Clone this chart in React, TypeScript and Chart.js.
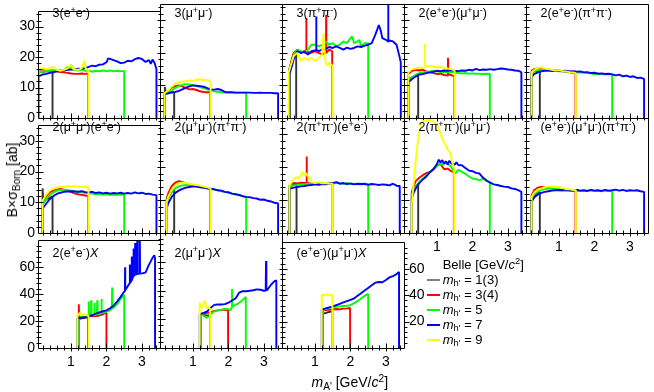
import React, { useEffect, useRef } from "react";
import { Chart, registerables } from "chart.js";

Chart.register(...registerables);

const FONT = '"Liberation Sans", Arial, Helvetica, sans-serif';

// ---- axes ----
const X_MIN = 0.07;
const X_MAX = 3.51;
const X_TICK_LABELS = [1, 2, 3];
const Y_TICKS_35 = [0, 10, 20, 30];
const Y_TICKS_80 = [0, 20, 40, 60];
const Y_TICKS_RIGHT = [20, 40, 60];

// ---- legend ----
const LEGEND_LABELS = ["1(3)", "3(4)", "5", "7", "9"];
const LEGEND_COLORS = ["#808080", "#ff0000", "#00ff00", "#0000ff", "#ffff00"];

// series order in every panel: yellow (m=9), blue (7), green (5), red (3/4), black (1/3)
const SERIES_COLORS = ["#ffff00", "#0000ff", "#00ff00", "#ff0000", "#333333"];

// ---- data: flat [x, y, x, y, ...] lists ----
// Panel 1: 3(e+e-)
const p01Yellow = [0.08,0, 0.08,15.8, 0.2,16.4, 0.3,16.0, 0.4,16.3, 0.5,16.8, 0.6,15.8, 0.7,15.5, 0.8,15.8, 0.9,16.3, 1.0,17.4, 1.05,16.2, 1.1,16.0, 1.2,15.8, 1.3,16.2, 1.38,18.9, 1.42,16.0, 1.495,15.7, 1.495,0];
const p01Blue = [0.08,0, 0.08,13.7, 0.15,14.0, 0.2,14.3, 0.3,14.5, 0.4,14.8, 0.5,15.0, 0.6,15.3, 0.7,15.4, 0.8,15.6, 0.9,15.8, 1.0,15.9, 1.1,16.0, 1.2,16.2, 1.3,16.1, 1.4,16.4, 1.5,16.8, 1.6,17.2, 1.7,17.0, 1.8,17.5, 1.9,17.6, 2.0,18.3, 2.05,19.6, 2.1,19.4, 2.2,19.0, 2.3,18.6, 2.4,18.0, 2.5,18.2, 2.6,18.8, 2.7,18.6, 2.8,19.3, 2.9,19.7, 3.0,19.4, 3.1,18.4, 3.2,19.0, 3.25,17.8, 3.3,19.2, 3.36,18.0, 3.41,16.0, 3.41,0];
const p01Green = [0.08,0, 0.08,15.0, 0.2,15.2, 0.3,15.4, 0.4,15.5, 0.5,15.7, 0.6,15.5, 0.7,15.8, 0.8,15.6, 0.9,16.8, 0.95,15.9, 1.0,17.5, 1.05,16.0, 1.1,15.9, 1.2,15.6, 1.3,15.8, 1.4,15.5, 1.5,15.6, 1.6,15.2, 1.7,15.5, 1.8,15.3, 1.9,15.6, 2.0,15.4, 2.1,15.6, 2.2,15.3, 2.3,15.5, 2.4,15.4, 2.5,15.4, 2.5,0];
const p01Red = [0.08,0, 0.08,15.8, 0.2,16.0, 0.3,15.9, 0.4,15.5, 0.5,15.6, 0.6,15.3, 0.7,15.1, 0.8,15.0, 0.9,14.8, 1.0,14.6, 1.1,14.5, 1.2,14.5, 1.3,14.6, 1.4,14.5, 1.485,14.6, 1.485,0];
const p01Black = [0.08,0, 0.08,15.0, 0.2,15.2, 0.3,15.3, 0.4,15.3, 0.48,15.2, 0.48,0];

// Panel 2: 3(mu+mu-)
const p02Yellow = [0.2,0, 0.2,7.6, 0.3,8.5, 0.4,9.6, 0.5,10.5, 0.6,11.0, 0.7,11.2, 0.8,11.3, 0.9,11.5, 1.0,11.4, 1.1,11.8, 1.2,11.9, 1.3,11.6, 1.4,11.8, 1.495,11.0, 1.495,0];
const p02Blue = [0.2,0, 0.2,7.3, 0.3,7.6, 0.4,7.8, 0.5,8.0, 0.6,8.3, 0.7,8.8, 0.8,9.3, 0.9,9.7, 1.0,10.0, 1.1,9.9, 1.2,9.8, 1.3,9.6, 1.4,9.2, 1.5,8.8, 1.6,8.7, 1.7,8.9, 1.8,8.6, 1.9,8.0, 2.0,7.9, 2.1,7.9, 2.2,7.8, 2.3,7.8, 2.4,7.8, 2.5,7.8, 2.6,7.8, 2.7,7.7, 2.8,7.7, 2.9,7.8, 3.0,7.7, 3.1,7.7, 3.2,7.7, 3.3,7.6, 3.4,7.6, 3.4,0];
const p02Green = [0.2,0, 0.2,7.3, 0.3,7.8, 0.4,8.5, 0.5,9.2, 0.6,9.8, 0.7,10.2, 0.8,10.4, 0.9,10.3, 1.0,10.1, 1.1,9.8, 1.2,9.5, 1.3,9.1, 1.4,8.8, 1.5,8.5, 1.6,8.2, 1.7,8.0, 1.8,7.9, 1.9,7.8, 2.0,7.8, 2.2,7.8, 2.4,7.8, 2.5,7.8, 2.5,0];
const p02Red = [0.2,0, 0.2,7.5, 0.3,8.3, 0.4,9.3, 0.5,9.8, 0.6,10.0, 0.7,9.7, 0.8,9.2, 0.9,8.8, 1.0,8.9, 1.1,8.6, 1.2,8.2, 1.3,8.0, 1.4,7.9, 1.485,7.9, 1.485,0];
const p02Black = [0.21,0, 0.21,9.5, 0.23,7.6, 0.3,7.8, 0.4,8.0, 0.47,7.8, 0.47,0];

// Panel 3: 3(pi+pi-)
const p03Yellow = [0.26,0, 0.26,14.0, 0.3,15.5, 0.4,19.0, 0.5,20.0, 0.6,17.5, 0.7,18.5, 0.8,17.8, 0.9,18.5, 1.0,17.5, 1.1,18.2, 1.2,19.5, 1.24,26.0, 1.28,19.0, 1.3,17.0, 1.35,16.0, 1.4,17.0, 1.495,16.0, 1.495,0];
const p03Blue = [0.28,0, 0.28,13.5, 0.35,16.0, 0.4,18.0, 0.5,20.5, 0.6,20.0, 0.7,20.3, 0.8,19.5, 0.9,20.5, 1.03,20.8, 1.035,31.2, 1.04,21.0, 1.1,20.5, 1.2,21.0, 1.3,21.2, 1.4,21.8, 1.5,21.5, 1.6,22.0, 1.7,21.5, 1.8,21.0, 1.9,21.6, 2.0,21.2, 2.1,21.5, 2.2,22.0, 2.3,21.8, 2.4,22.2, 2.5,22.5, 2.6,23.0, 2.7,25.5, 2.8,28.5, 2.85,27.0, 2.9,24.5, 3.0,24.0, 3.06,23.5, 3.065,38.0, 3.07,23.5, 3.1,23.8, 3.2,23.5, 3.3,22.5, 3.38,19.0, 3.42,17.0, 3.42,0];
const p03Green = [0.28,0, 0.28,15.0, 0.35,17.0, 0.4,19.5, 0.5,21.0, 0.6,20.5, 0.7,20.0, 0.8,21.0, 0.9,22.5, 1.0,22.5, 1.1,22.0, 1.2,22.5, 1.3,23.5, 1.4,22.5, 1.5,23.0, 1.6,22.0, 1.7,22.5, 1.8,23.5, 1.9,23.0, 2.0,24.5, 2.05,25.0, 2.1,23.0, 2.2,23.5, 2.25,24.0, 2.3,22.0, 2.4,23.0, 2.5,23.0, 2.5,0];
const p03Red = [0.28,0, 0.28,15.0, 0.35,18.0, 0.4,20.0, 0.5,21.0, 0.6,20.0, 0.7,20.5, 0.75,20.5, 0.755,30.7, 0.76,20.5, 0.8,20.2, 0.9,20.0, 1.0,20.5, 1.1,20.0, 1.2,19.5, 1.31,20.0, 1.315,31.7, 1.32,20.0, 1.4,21.0, 1.485,20.5, 1.485,0];
const p03Black = [0.28,0, 0.28,15.0, 0.35,18.0, 0.4,19.5, 0.47,20.0, 0.47,0];

// Panel 4: 2(e+e-)(mu+mu-)
const p04Yellow = [0.19,0, 0.19,14.0, 0.3,15.0, 0.4,15.2, 0.5,15.5, 0.6,15.3, 0.65,15.5, 0.655,22.8, 0.66,15.5, 0.7,15.8, 0.8,16.0, 0.9,15.8, 1.0,15.5, 1.1,15.6, 1.2,15.3, 1.3,15.2, 1.4,15.0, 1.495,14.6, 1.495,0];
const p04Blue = [0.19,0, 0.19,11.0, 0.3,12.0, 0.4,12.8, 0.5,13.3, 0.6,13.5, 0.7,13.8, 0.8,14.0, 0.9,14.2, 1.0,14.5, 1.1,14.4, 1.2,14.6, 1.3,14.5, 1.4,14.7, 1.5,14.5, 1.6,14.4, 1.7,14.6, 1.8,14.5, 1.9,14.8, 2.0,14.6, 2.1,15.1, 2.2,14.7, 2.3,14.9, 2.4,14.8, 2.5,15.0, 2.6,14.8, 2.7,15.0, 2.8,15.2, 2.9,15.1, 3.0,14.9, 3.1,14.8, 3.2,14.6, 3.3,14.5, 3.38,14.0, 3.38,0];
const p04Green = [0.19,0, 0.19,11.5, 0.3,12.5, 0.4,13.3, 0.5,13.8, 0.6,14.0, 0.7,14.2, 0.8,14.3, 0.9,14.5, 1.0,14.3, 1.1,14.1, 1.2,14.2, 1.3,14.0, 1.4,14.2, 1.5,13.9, 1.6,13.8, 1.7,13.7, 1.8,13.8, 1.9,13.6, 2.0,13.7, 2.1,13.6, 2.2,13.6, 2.3,13.5, 2.4,13.6, 2.49,13.5, 2.49,0];
const p04Red = [0.19,0, 0.19,13.5, 0.3,14.5, 0.4,14.8, 0.5,14.6, 0.6,14.8, 0.7,14.3, 0.8,14.0, 0.9,13.8, 1.0,13.5, 1.1,13.6, 1.2,13.2, 1.3,13.0, 1.31,18.5, 1.32,13.4, 1.4,13.2, 1.485,12.8, 1.485,0];
const p04Black = [0.19,0, 0.19,12.0, 0.3,12.5, 0.4,12.8, 0.47,13.0, 0.47,0];

// Panel 5: 2(e+e-)(pi+pi-)
const p05Yellow = [0.23,0, 0.23,14.0, 0.3,14.8, 0.4,15.3, 0.5,15.6, 0.6,15.2, 0.7,15.0, 0.8,14.8, 0.9,14.6, 1.0,14.7, 1.1,14.4, 1.2,14.3, 1.3,14.1, 1.4,14.0, 1.475,13.8, 1.475,0];
const p05Blue = [0.23,0, 0.23,12.5, 0.3,13.5, 0.4,14.0, 0.5,14.3, 0.6,14.5, 0.7,14.6, 0.8,14.4, 0.9,14.5, 1.0,14.6, 1.1,14.4, 1.2,14.5, 1.3,14.3, 1.4,14.4, 1.5,14.2, 1.6,14.3, 1.7,14.0, 1.8,14.1, 1.9,13.8, 2.0,13.9, 2.1,13.6, 2.2,13.7, 2.3,13.5, 2.4,13.6, 2.5,13.4, 2.6,13.1, 2.7,13.3, 2.8,12.8, 2.9,13.0, 3.0,12.6, 3.1,12.8, 3.2,12.3, 3.3,12.4, 3.4,12.0, 3.4,0];
const p05Green = [0.23,0, 0.23,13.5, 0.3,14.3, 0.4,14.7, 0.5,14.9, 0.6,14.7, 0.7,14.8, 0.8,14.5, 0.9,14.6, 1.0,14.3, 1.1,14.4, 1.2,14.2, 1.3,14.3, 1.4,14.0, 1.5,14.1, 1.6,13.9, 1.7,14.0, 1.8,13.8, 1.9,13.7, 2.0,13.5, 2.1,13.6, 2.2,13.4, 2.3,13.5, 2.4,13.4, 2.5,13.4, 2.5,0];
const p05Red = [0.23,0, 0.23,14.5, 0.3,15.0, 0.4,15.2, 0.5,15.0, 0.6,14.8, 0.7,14.9, 0.8,14.6, 0.9,14.7, 1.0,14.5, 1.1,14.3, 1.2,14.2, 1.3,14.0, 1.4,13.9, 1.465,13.8, 1.465,0];
const p05Black = [0.23,0, 0.23,14.0, 0.3,14.3, 0.4,14.5, 0.46,14.5, 0.46,0];

// Panel 6: 2(mu+mu-)(e+e-)
const p06Yellow = [0.2,0, 0.2,10.5, 0.3,12.5, 0.4,13.8, 0.5,14.4, 0.6,14.8, 0.7,15.0, 0.8,15.1, 0.9,15.2, 1.0,15.1, 1.1,15.2, 1.2,15.1, 1.3,15.0, 1.4,15.0, 1.495,14.8, 1.495,0];
const p06Blue = [0.2,0, 0.2,8.0, 0.3,9.5, 0.4,11.0, 0.5,12.0, 0.6,12.7, 0.7,13.1, 0.8,13.4, 0.9,13.5, 1.0,13.6, 1.1,13.5, 1.2,13.4, 1.3,13.6, 1.4,13.3, 1.5,13.2, 1.6,13.4, 1.7,13.0, 1.8,13.2, 1.9,12.9, 2.0,13.1, 2.1,12.8, 2.2,13.0, 2.3,12.9, 2.4,13.1, 2.5,12.8, 2.6,13.0, 2.7,12.8, 2.8,13.2, 2.9,12.9, 3.0,13.1, 3.1,12.7, 3.2,12.8, 3.3,12.5, 3.41,12.3, 3.41,0];
const p06Green = [0.2,0, 0.2,9.0, 0.3,11.0, 0.4,12.3, 0.5,13.2, 0.6,13.8, 0.7,14.0, 0.8,14.1, 0.9,14.0, 1.0,13.8, 1.1,13.6, 1.2,13.3, 1.3,13.2, 1.4,13.0, 1.5,12.9, 1.6,12.8, 1.7,12.6, 1.8,12.7, 1.9,12.5, 2.0,12.6, 2.1,12.4, 2.2,12.5, 2.3,12.4, 2.4,12.5, 2.5,12.4, 2.5,0];
const p06Red = [0.2,0, 0.2,10.0, 0.3,12.0, 0.4,13.2, 0.5,13.8, 0.6,14.1, 0.7,14.3, 0.8,14.1, 0.9,13.8, 1.0,13.4, 1.1,12.9, 1.2,12.6, 1.3,12.4, 1.4,12.2, 1.485,12.0, 1.485,0];
const p06Black = [0.2,0, 0.2,14.5, 0.22,10.0, 0.3,11.0, 0.4,11.5, 0.48,11.8, 0.48,0];

// Panel 7: 2(mu+mu-)(pi+pi-)
const p07Yellow = [0.26,0, 0.26,9.5, 0.3,11.0, 0.4,13.3, 0.5,14.5, 0.6,15.1, 0.7,15.3, 0.8,15.2, 0.9,15.0, 1.0,14.8, 1.1,14.6, 1.2,14.4, 1.3,14.1, 1.4,13.9, 1.495,13.6, 1.495,0];
const p07Blue = [0.26,0, 0.26,7.5, 0.3,9.0, 0.4,11.0, 0.5,12.2, 0.6,12.9, 0.7,13.4, 0.8,13.8, 0.9,14.0, 1.0,14.2, 1.1,14.1, 1.2,13.9, 1.3,13.8, 1.4,13.6, 1.5,13.5, 1.6,13.3, 1.7,13.0, 1.8,12.9, 1.9,12.5, 2.0,12.4, 2.1,12.0, 2.2,11.8, 2.3,11.6, 2.4,11.2, 2.5,11.0, 2.6,10.9, 2.7,10.6, 2.8,10.5, 2.9,10.1, 3.0,10.2, 3.1,9.8, 3.2,9.6, 3.3,9.2, 3.4,9.0, 3.4,0];
const p07Green = [0.26,0, 0.26,9.0, 0.3,10.5, 0.4,12.5, 0.5,13.6, 0.6,14.2, 0.7,14.5, 0.8,14.6, 0.9,14.5, 1.0,14.4, 1.1,14.2, 1.2,14.0, 1.3,13.8, 1.4,13.6, 1.5,13.4, 1.6,13.2, 1.7,13.0, 1.8,12.7, 1.9,12.5, 2.0,12.2, 2.1,12.0, 2.2,11.8, 2.3,11.5, 2.4,11.2, 2.5,11.0, 2.5,0];
const p07Red = [0.26,0, 0.26,10.0, 0.3,12.0, 0.4,14.3, 0.5,15.3, 0.6,15.8, 0.7,15.5, 0.8,15.2, 0.9,14.9, 1.0,14.6, 1.1,14.3, 1.2,14.0, 1.3,13.8, 1.4,13.6, 1.485,13.4, 1.485,0];
const p07Black = [0.26,0, 0.26,10.5, 0.3,11.5, 0.4,12.5, 0.47,13.0, 0.47,0];

// Panel 8: 2(pi+pi-)(e+e-)
const p08Yellow = [0.28,0, 0.28,14.5, 0.35,15.5, 0.4,16.5, 0.5,17.0, 0.55,16.5, 0.6,17.8, 0.65,18.6, 0.7,17.5, 0.75,18.2, 0.8,17.2, 0.85,16.4, 0.9,15.6, 1.0,15.2, 1.1,15.5, 1.2,15.1, 1.3,15.2, 1.4,15.0, 1.5,15.0, 1.5,0];
const p08Blue = [0.28,0, 0.28,13.0, 0.3,13.5, 0.4,13.8, 0.5,14.0, 0.6,14.2, 0.7,14.3, 0.8,14.5, 0.9,14.6, 1.0,14.8, 1.1,14.7, 1.2,14.9, 1.3,14.8, 1.4,15.0, 1.5,15.2, 1.6,15.5, 1.7,15.0, 1.8,15.2, 1.9,14.9, 2.0,15.1, 2.1,14.8, 2.2,15.0, 2.3,14.9, 2.4,15.0, 2.5,14.7, 2.6,14.9, 2.7,14.8, 2.8,14.6, 2.9,14.8, 3.0,14.7, 3.1,14.5, 3.2,15.0, 3.3,14.4, 3.39,14.3, 3.39,0];
const p08Green = [0.28,0, 0.28,14.0, 0.3,14.3, 0.4,14.5, 0.5,14.6, 0.6,14.8, 0.7,14.8, 0.8,15.0, 0.9,15.0, 1.0,15.1, 1.1,15.0, 1.2,15.2, 1.3,15.1, 1.4,15.2, 1.5,15.0, 1.6,15.3, 1.7,15.1, 1.8,15.0, 1.9,15.2, 2.0,14.9, 2.1,15.0, 2.2,14.8, 2.3,14.9, 2.4,14.8, 2.5,14.7, 2.5,0];
const p08Red = [0.28,0, 0.28,14.5, 0.35,15.0, 0.4,15.2, 0.5,15.1, 0.6,15.3, 0.7,15.2, 0.76,15.3, 0.765,23.3, 0.77,15.3, 0.8,15.2, 0.9,15.0, 1.0,15.1, 1.1,14.9, 1.2,15.0, 1.3,14.9, 1.4,15.0, 1.495,14.9, 1.495,0];
const p08Black = [0.28,0, 0.28,14.0, 0.35,14.5, 0.4,14.6, 0.48,14.6, 0.48,0];

// Panel 9: 2(pi+pi-)(mu+mu-)
const p09Yellow = [0.29,0, 0.29,9.0, 0.35,16.0, 0.4,22.0, 0.45,27.0, 0.5,30.5, 0.55,33.2, 0.6,34.0, 0.7,34.3, 0.8,34.5, 0.9,34.0, 1.0,33.0, 1.1,30.0, 1.2,27.5, 1.3,25.5, 1.37,24.5, 1.42,22.0, 1.485,19.6, 1.485,0];
const p09Blue = [0.29,0, 0.29,10.5, 0.35,12.5, 0.4,13.5, 0.5,15.2, 0.6,16.3, 0.7,17.2, 0.8,18.5, 0.9,19.4, 1.0,21.0, 1.05,22.3, 1.1,21.5, 1.15,22.2, 1.2,21.0, 1.25,21.8, 1.3,20.8, 1.35,22.0, 1.4,21.2, 1.5,20.8, 1.55,21.5, 1.6,20.7, 1.7,20.6, 1.8,19.8, 1.9,19.0, 2.0,18.8, 2.1,18.3, 2.2,18.1, 2.3,16.8, 2.4,16.0, 2.5,15.3, 2.6,14.8, 2.7,14.6, 2.8,14.3, 2.9,14.1, 3.0,14.0, 3.1,13.6, 3.2,13.4, 3.3,13.0, 3.38,12.5, 3.38,0];
const p09Green = [0.29,0, 0.29,11.5, 0.35,13.0, 0.4,14.0, 0.5,15.5, 0.6,16.5, 0.7,17.5, 0.8,18.5, 0.9,19.3, 1.0,20.4, 1.1,20.8, 1.2,21.3, 1.25,21.8, 1.3,21.0, 1.4,20.2, 1.5,18.0, 1.55,18.6, 1.6,19.2, 1.7,18.6, 1.8,18.0, 1.9,17.2, 2.0,16.6, 2.1,16.4, 2.2,16.1, 2.3,16.5, 2.4,15.8, 2.49,15.5, 2.49,0];
const p09Red = [0.29,0, 0.29,12.5, 0.35,14.5, 0.4,15.8, 0.5,16.8, 0.6,17.6, 0.7,18.2, 0.8,18.6, 0.9,19.5, 1.0,20.6, 1.1,21.0, 1.15,20.2, 1.2,19.4, 1.3,19.6, 1.4,18.8, 1.475,18.6, 1.475,0];
const p09Black = [0.29,0, 0.29,12.0, 0.35,13.5, 0.4,14.2, 0.47,15.0, 0.47,0];

// Panel 10: (e+e-)(mu+mu-)(pi+pi-)
const p10Yellow = [0.23,0, 0.23,11.0, 0.3,12.3, 0.4,13.2, 0.5,13.6, 0.6,13.9, 0.7,14.1, 0.8,14.2, 0.9,14.1, 1.0,14.0, 1.1,13.7, 1.2,13.4, 1.3,13.3, 1.4,13.1, 1.475,13.0, 1.475,0];
const p10Blue = [0.23,0, 0.23,9.5, 0.3,10.8, 0.4,11.7, 0.5,12.2, 0.6,12.5, 0.7,12.7, 0.8,12.9, 0.9,13.0, 1.0,13.1, 1.1,13.0, 1.2,13.2, 1.3,13.0, 1.4,12.9, 1.5,13.1, 1.6,12.9, 1.7,13.0, 1.8,12.8, 1.9,13.1, 2.0,12.9, 2.1,13.0, 2.2,12.8, 2.3,13.1, 2.4,12.9, 2.5,13.0, 2.6,13.2, 2.7,12.9, 2.8,13.1, 2.9,12.8, 3.0,13.0, 3.1,12.9, 3.2,13.0, 3.3,12.7, 3.4,12.5, 3.4,0];
const p10Green = [0.23,0, 0.23,10.5, 0.3,11.8, 0.4,12.6, 0.5,13.1, 0.6,13.4, 0.7,13.5, 0.8,13.6, 0.9,13.4, 1.0,13.3, 1.1,13.2, 1.2,13.0, 1.3,13.1, 1.4,12.9, 1.5,13.0, 1.6,12.8, 1.7,12.9, 1.8,12.8, 1.9,13.0, 2.0,12.8, 2.1,12.9, 2.2,12.7, 2.3,12.9, 2.4,12.8, 2.5,12.8, 2.5,0];
const p10Red = [0.23,0, 0.23,11.5, 0.3,13.0, 0.4,13.8, 0.5,14.0, 0.6,13.9, 0.7,13.7, 0.8,13.5, 0.9,13.3, 1.0,13.1, 1.1,13.0, 1.2,12.9, 1.3,12.9, 1.4,12.8, 1.465,12.8, 1.465,0];
const p10Black = [0.23,0, 0.23,10.5, 0.3,11.5, 0.4,12.2, 0.46,12.5, 0.46,0];

// Panel 11: 2(e+e-)X
const p11Yellow = [1.18,0, 1.18,25.0, 1.22,24.5, 1.25,26.5, 1.3,24.5, 1.35,25.0, 1.4,24.5, 1.495,24.0, 1.495,0];
const p11Blue = [1.18,0, 1.18,22.0, 1.3,22.5, 1.4,23.0, 1.5,23.5, 1.6,24.5, 1.7,25.5, 1.8,26.5, 1.9,27.3, 2.0,28.0, 2.1,29.5, 2.2,31.5, 2.3,34.5, 2.4,38.0, 2.5,42.0, 2.52,42.5, 2.525,60.0, 2.53,43.0, 2.6,46.0, 2.65,48.0, 2.66,62.0, 2.67,48.5, 2.7,50.0, 2.71,68.0, 2.72,50.5, 2.75,53.0, 2.76,74.0, 2.77,53.5, 2.8,54.5, 2.81,78.0, 2.82,54.5, 2.86,55.0, 2.87,84.0, 2.88,55.0, 2.93,55.3, 2.94,84.0, 2.95,55.3, 3.0,55.5, 3.1,56.0, 3.2,62.0, 3.3,67.0, 3.35,69.0, 3.37,67.0, 3.37,0];
const p11Green = [1.22,0, 1.22,22.5, 1.3,23.0, 1.4,23.5, 1.49,24.0, 1.5,34.5, 1.51,24.0, 1.56,24.2, 1.57,35.5, 1.58,24.3, 1.65,24.5, 1.66,33.5, 1.67,24.6, 1.73,25.0, 1.74,35.5, 1.75,25.0, 1.8,25.5, 1.85,26.0, 1.86,36.5, 1.87,26.0, 1.9,26.3, 2.0,27.0, 2.1,28.0, 2.15,29.0, 2.16,45.0, 2.17,29.5, 2.2,30.0, 2.3,32.5, 2.4,36.5, 2.5,39.5, 2.5,0];
const p11Red = [1.22,0, 1.22,32.5, 1.23,23.0, 1.3,23.0, 1.4,23.2, 1.5,23.5, 1.6,23.5, 1.7,23.8, 1.8,24.2, 1.9,25.0, 1.95,26.0, 2.0,26.0, 2.0,0];
const p11Black = [1.22,0, 1.22,21.5, 1.3,22.0, 1.4,22.5, 1.48,23.0, 1.48,0];

// Panel 12: 2(mu+mu-)X
const p12Yellow = [1.19,0, 1.19,31.5, 1.22,29.0, 1.25,28.0, 1.3,31.0, 1.33,33.0, 1.37,29.0, 1.4,27.5, 1.45,28.5, 1.485,27.0, 1.485,0];
const p12Blue = [1.19,0, 1.19,23.5, 1.3,24.5, 1.4,25.5, 1.5,28.0, 1.6,30.0, 1.7,30.3, 1.8,30.3, 1.9,30.5, 2.0,31.5, 2.1,33.0, 2.2,34.5, 2.3,38.5, 2.4,39.5, 2.5,39.5, 2.6,39.8, 2.7,40.2, 2.8,40.8, 2.9,40.5, 3.0,39.8, 3.05,40.0, 3.06,60.5, 3.07,40.0, 3.1,40.5, 3.2,44.0, 3.3,46.5, 3.35,47.0, 3.35,0];
const p12Green = [1.22,0, 1.22,23.5, 1.3,22.5, 1.38,21.0, 1.45,22.0, 1.5,23.5, 1.6,25.5, 1.7,26.0, 1.8,26.7, 1.9,27.3, 2.0,27.0, 2.05,26.0, 2.09,28.0, 2.1,41.0, 2.11,29.0, 2.2,30.0, 2.3,31.3, 2.4,33.5, 2.49,35.5, 2.49,0];
const p12Red = [1.22,0, 1.22,23.5, 1.3,24.0, 1.4,24.5, 1.5,25.0, 1.6,25.8, 1.7,26.2, 1.8,26.5, 1.9,26.5, 1.99,26.3, 1.99,0];
const p12Black = [1.22,0, 1.22,23.5, 1.3,23.0, 1.4,22.5, 1.48,23.0, 1.48,0];

// Panel 13: (e+e-)(mu+mu-)X
const p13Yellow = [1.19,0, 1.19,40.5, 1.22,40.0, 1.27,39.5, 1.3,40.5, 1.35,40.5, 1.4,39.8, 1.45,40.0, 1.49,40.0, 1.49,0];
const p13Blue = [1.19,0, 1.19,29.0, 1.3,30.0, 1.4,30.8, 1.5,31.5, 1.6,32.5, 1.7,33.5, 1.8,34.5, 1.9,35.5, 2.0,36.5, 2.1,37.5, 2.2,39.5, 2.3,41.5, 2.4,43.5, 2.5,45.5, 2.6,47.5, 2.7,49.5, 2.8,50.0, 2.9,49.8, 3.0,51.5, 3.1,53.5, 3.2,54.5, 3.3,56.0, 3.37,57.5, 3.37,0];
const p13Green = [1.22,0, 1.22,29.0, 1.3,29.5, 1.4,30.3, 1.5,31.0, 1.6,31.2, 1.7,31.5, 1.8,31.8, 1.9,32.0, 2.0,32.5, 2.1,34.0, 2.2,35.5, 2.3,37.5, 2.4,39.5, 2.5,41.0, 2.5,0];
const p13Red = [1.22,0, 1.22,28.5, 1.3,28.8, 1.4,29.0, 1.5,29.3, 1.6,29.5, 1.7,29.3, 1.8,29.8, 1.9,30.0, 1.99,30.3, 1.99,0];
const p13Black = [1.22,0, 1.22,26.0, 1.3,26.5, 1.4,27.3, 1.49,28.0, 1.49,0];

// ---- layout ----
const COL_LEFT = [38, 160, 282, 404, 526, 648];
const ROW_TOP = [4, 118, 233, 348];
const MARGIN_L = 40;
const MARGIN_R = 30;
const MARGIN_T = 4;
const MARGIN_B = 30;

const Sup = ({ children }: any) => (
  <span style={{ fontSize: "0.72em", position: "relative", top: "-0.48em" }}>{children}</span>
);
const Sub = ({ children }: any) => (
  <span style={{ fontSize: "0.72em", position: "relative", top: "0.3em" }}>{children}</span>
);
const pair = (p: string) => (
  <>
    ({p}
    <Sup>+</Sup>
    {p}
    <Sup>-</Sup>)
  </>
);

const PANELS: any[] = [
  { row: 0, col: 0, title: <>3{pair("e")}</>, series: [p01Yellow, p01Blue, p01Green, p01Red, p01Black] },
  { row: 0, col: 1, title: <>3{pair("μ")}</>, series: [p02Yellow, p02Blue, p02Green, p02Red, p02Black] },
  { row: 0, col: 2, title: <>3{pair("π")}</>, series: [p03Yellow, p03Blue, p03Green, p03Red, p03Black] },
  { row: 0, col: 3, title: <>2{pair("e")}{pair("μ")}</>, series: [p04Yellow, p04Blue, p04Green, p04Red, p04Black] },
  { row: 0, col: 4, title: <>2{pair("e")}{pair("π")}</>, series: [p05Yellow, p05Blue, p05Green, p05Red, p05Black] },
  { row: 1, col: 0, title: <>2{pair("μ")}{pair("e")}</>, series: [p06Yellow, p06Blue, p06Green, p06Red, p06Black] },
  { row: 1, col: 1, title: <>2{pair("μ")}{pair("π")}</>, series: [p07Yellow, p07Blue, p07Green, p07Red, p07Black] },
  { row: 1, col: 2, title: <>2{pair("π")}{pair("e")}</>, series: [p08Yellow, p08Blue, p08Green, p08Red, p08Black] },
  { row: 1, col: 3, title: <>2{pair("π")}{pair("μ")}</>, series: [p09Yellow, p09Blue, p09Green, p09Red, p09Black], xLabels: true },
  { row: 1, col: 4, title: <>{pair("e")}{pair("μ")}{pair("π")}</>, series: [p10Yellow, p10Blue, p10Green, p10Red, p10Black], xLabels: true },
  { row: 2, col: 0, title: <>2{pair("e")}<i>X</i></>, series: [p11Yellow, p11Blue, p11Green, p11Red, p11Black], xLabels: true },
  { row: 2, col: 1, title: <>2{pair("μ")}<i>X</i></>, series: [p12Yellow, p12Blue, p12Green, p12Red, p12Black], xLabels: true },
  { row: 2, col: 2, title: <>{pair("e")}{pair("μ")}<i>X</i></>, series: [p13Yellow, p13Blue, p13Green, p13Red, p13Black], xLabels: true, rightAxis: true },
];

const toPoints = (arr: number[]) => {
  const pts: { x: number; y: number }[] = [];
  for (let i = 0; i < arr.length; i += 2) pts.push({ x: arr[i], y: arr[i + 1] });
  return pts;
};

const framePlugin = {
  id: "rootFrame",
  afterDatasetsDraw(chart: any, _args: any, o: any) {
    const { ctx, chartArea: a } = chart;
    const xs = chart.scales.x;
    const ys = chart.scales.y;
    ctx.save();
    ctx.strokeStyle = "#000";
    ctx.lineWidth = 1;
    ctx.beginPath();
    const L = Math.round(a.left) + 0.5;
    const R = Math.round(a.right) + 0.5;
    const T = Math.round(a.top) + 0.5;
    const B = Math.round(a.bottom) + 0.5;
    ctx.moveTo(L, T);
    ctx.lineTo(R, T);
    ctx.lineTo(R, B);
    ctx.lineTo(L, B);
    ctx.closePath();
    const nY = Math.round(o.yMax / o.yMinor);
    for (let k = 1; k < nY; k++) {
      const py = Math.round(ys.getPixelForValue(k * o.yMinor)) + 0.5;
      const major = k % 5 === 0;
      ctx.moveTo(L - (major ? 3 : 2), py);
      ctx.lineTo(L + (major ? 5 : 3), py);
      if (o.right) {
        ctx.moveTo(R, py);
        ctx.lineTo(R + (major ? 5 : 3), py);
      }
    }
    for (let k = 1; k <= 17; k++) {
      const v = k * 0.2;
      if (v >= X_MAX) break;
      const px = Math.round(xs.getPixelForValue(v)) + 0.5;
      const major = k % 5 === 0;
      ctx.moveTo(px, B + (major ? 3 : 2));
      ctx.lineTo(px, B - (major ? 5 : 3));
    }
    ctx.stroke();
    ctx.restore();
  },
};

function Panel({ p }: any) {
  const ref = useRef<HTMLCanvasElement | null>(null);
  const left = COL_LEFT[p.col];
  const top = ROW_TOP[p.row];
  const w = COL_LEFT[p.col + 1] - left;
  const h = ROW_TOP[p.row + 1] - top;
  const cw = MARGIN_L + w + MARGIN_R;
  const chh = MARGIN_T + h + MARGIN_B;
  const yMax = p.row === 2 ? 80 : 35;
  const yTicks = p.row === 2 ? Y_TICKS_80 : Y_TICKS_35;

  useEffect(() => {
    if (!ref.current) return;
    const tickFont = { family: FONT, size: 14 };
    const scales: any = {
      x: {
        type: "linear",
        position: "bottom",
        min: X_MIN,
        max: X_MAX,
        grid: { display: false, drawTicks: false },
        border: { display: false },
        ticks: { display: !!p.xLabels, font: tickFont, color: "#000", padding: 6, maxRotation: 0, autoSkip: false, callback: (v: any) => String(v) },
        afterBuildTicks: (s: any) => { s.ticks = X_TICK_LABELS.map((v) => ({ value: v })); },
        afterFit: (s: any) => { s.height = MARGIN_B; },
      },
      y: {
        type: "linear",
        position: "left",
        min: 0,
        max: yMax,
        grid: { display: false, drawTicks: false },
        border: { display: false },
        ticks: { display: p.col === 0, font: tickFont, color: "#000", padding: 3, autoSkip: false, callback: (v: any) => String(v) },
        afterBuildTicks: (s: any) => { s.ticks = yTicks.map((v) => ({ value: v })); },
        afterFit: (s: any) => { s.width = MARGIN_L; },
      },
    };
    if (p.rightAxis) {
      scales.y2 = {
        type: "linear",
        position: "right",
        min: 0,
        max: yMax,
        grid: { display: false, drawTicks: false },
        border: { display: false },
        ticks: { display: true, font: tickFont, color: "#000", padding: 5, autoSkip: false, callback: (v: any) => String(v) },
        afterBuildTicks: (s: any) => { s.ticks = Y_TICKS_RIGHT.map((v) => ({ value: v })); },
        afterFit: (s: any) => { s.width = MARGIN_R; },
      };
    }
    const chart = new Chart(ref.current, {
      type: "line",
      data: {
        datasets: p.series.map((arr: number[], i: number) => ({
          data: toPoints(arr),
          borderColor: SERIES_COLORS[i],
          backgroundColor: SERIES_COLORS[i],
          borderWidth: 1.9,
          pointRadius: 0,
          tension: 0,
          fill: false,
          borderJoinStyle: "bevel",
          clip: 0,
          yAxisID: "y",
        })),
      },
      options: {
        responsive: false,
        maintainAspectRatio: false,
        animation: false,
        events: [],
        layout: { autoPadding: false, padding: { left: 0, top: MARGIN_T, bottom: 0, right: p.rightAxis ? 0 : MARGIN_R } },
        plugins: {
          legend: { display: false },
          tooltip: { enabled: false },
          rootFrame: { yMax, yMinor: yMax === 80 ? 4 : 2, right: !!p.rightAxis },
        } as any,
        scales,
      },
      plugins: [framePlugin],
    } as any);
    return () => chart.destroy();
  }, []);

  return (
    <canvas
      ref={ref}
      width={cw}
      height={chh}
      style={{ position: "absolute", left: left - MARGIN_L, top: top - MARGIN_T, width: cw, height: chh }}
    />
  );
}

export default function App() {
  const titleFont = 12.5;
  return (
    <div
      style={{
        position: "absolute",
        left: 0,
        top: 0,
        width: 654,
        height: 392,
        background: "#fff",
        overflow: "hidden",
        fontFamily: FONT,
        color: "#000",
      }}
    >
      {PANELS.map((p, i) => (
        <Panel key={"c" + i} p={p} />
      ))}
      {PANELS.map((p, i) => {
        const baseline = ROW_TOP[p.row] + (p.row === 2 ? 24.3 : 13.5);
        return (
          <div
            key={"t" + i}
            style={{
              position: "absolute",
              left: COL_LEFT[p.col] + 14.5,
              top: baseline - 10.6,
              fontSize: titleFont,
              lineHeight: titleFont + "px",
              whiteSpace: "nowrap",
            }}
          >
            {p.title}
          </div>
        );
      })}
      {/* y axis title */}
      <div
        style={{
          position: "absolute",
          left: 12.5,
          top: 180,
          transform: "translate(-50%, -50%) rotate(-90deg)",
          fontSize: 14,
          lineHeight: "14px",
          whiteSpace: "nowrap",
        }}
      >
        B×σ<Sub>Born</Sub> [ab]
      </div>
      {/* x axis title */}
      <div
        style={{ position: "absolute", left: 311.5, top: 374.9, fontSize: 14, lineHeight: "14px", whiteSpace: "nowrap" }}
      >
        <i>m</i>
        <Sub>A'</Sub> [GeV/<i>c</i>
        <Sup>2</Sup>]
      </div>
      {/* legend */}
      <div style={{ position: "absolute", left: 442.7, top: 257.6, fontSize: 13, lineHeight: "13px", whiteSpace: "nowrap" }}>
        Belle [GeV/<i>c</i>
        <Sup>2</Sup>]
      </div>
      {LEGEND_LABELS.map((lab, k) => (
        <React.Fragment key={"l" + k}>
          <div
            style={{ position: "absolute", left: 427, top: 278.5 + 15 * k, width: 13, height: 2, background: LEGEND_COLORS[k] }}
          />
          <div
            style={{ position: "absolute", left: 442.7, top: 272.5 + 15 * k, fontSize: 13, lineHeight: "13px", whiteSpace: "nowrap" }}
          >
            <i>m</i>
            <Sub>h'</Sub> = {lab}
          </div>
        </React.Fragment>
      ))}
    </div>
  );
}
